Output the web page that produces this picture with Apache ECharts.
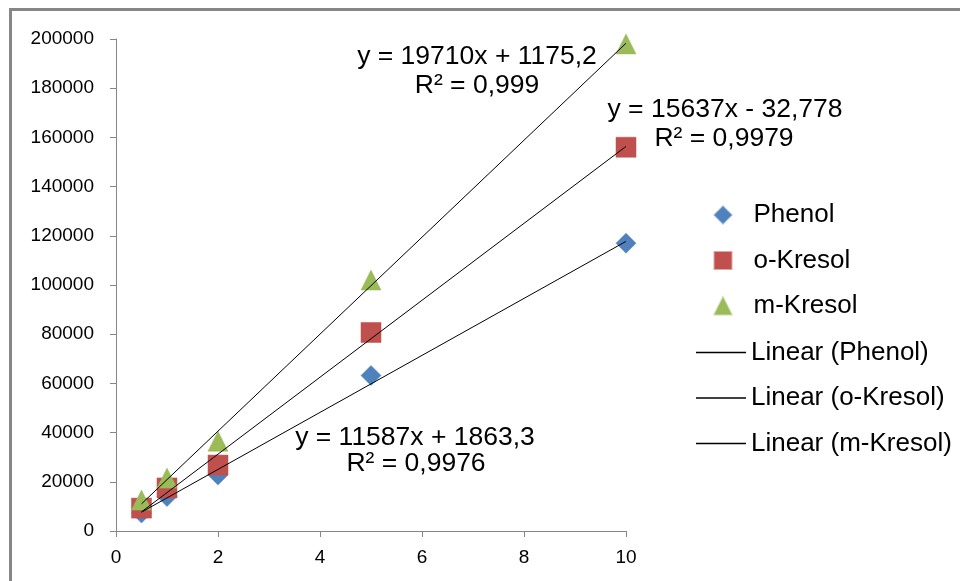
<!DOCTYPE html>
<html>
<head>
<meta charset="utf-8">
<script src="https://cdn.jsdelivr.net/npm/echarts@6/dist/echarts.min.js"></script>
<style>
html,body{margin:0;padding:0;background:#fff;}
#c{width:960px;height:581px;}
</style>
</head>
<body>
<div id="c"></div>
<script>
// Data
const xValues = [0.5, 1, 2, 5, 10];
const phenol = [7300, 14000, 22800, 63200, 117000];
const oKresol = [9300, 17500, 26800, 80700, 156000];
const mKresol = [12600, 21500, 36500, 102000, 198000];
const trendX = [0.5, 10];
const trendPhenol = [7657, 117733];
const trendOKresol = [7786, 156337];
const trendMKresol = [11030, 198275];
const seriesNames = ['Phenol', 'o-Kresol', 'm-Kresol', 'Linear (Phenol)', 'Linear (o-Kresol)', 'Linear (m-Kresol)'];
const eqPhenol = ['y = 11587x + 1863,3', 'R² = 0,9976'];
const eqOKresol = ['y = 15637x - 32,778', 'R² = 0,9979'];
const eqMKresol = ['y = 19710x + 1175,2', 'R² = 0,999'];

const pts = (xs, ys) => xs.map((x, i) => [x, ys[i]]);
const FONT = '"Liberation Sans", Arial, sans-serif';

const chart = echarts.init(document.getElementById('c'), null, {renderer: 'canvas'});
const annot = (lines, x, y) => lines.map((t, i) => ({
  type: 'text', x: x[i], y: y[i], z: 100,
  style: {text: t, font: '26.5px ' + FONT, fill: '#000', textAlign: 'center', textVerticalAlign: 'middle'}
}));
const legendText = {color: '#000', fontFamily: FONT, fontSize: 26, lineHeight: 26};

chart.setOption({
  animation: false,
  backgroundColor: '#fff',
  grid: {left: 116, top: 39, right: 334, bottom: 50, containLabel: false},
  xAxis: {
    type: 'value', min: 0, max: 10, interval: 2,
    axisLine: {show: true, lineStyle: {color: '#868686', width: 1}},
    axisTick: {show: true, length: 6, lineStyle: {color: '#868686'}},
    axisLabel: {color: '#000', fontFamily: FONT, fontSize: 19, margin: 17},
    splitLine: {show: false}
  },
  yAxis: {
    type: 'value', min: 0, max: 200000, interval: 20000,
    axisLine: {show: true, lineStyle: {color: '#868686', width: 1}},
    axisTick: {show: true, length: 6, lineStyle: {color: '#868686'}},
    axisLabel: {color: '#000', fontFamily: FONT, fontSize: 19, margin: 22, formatter: v => String(v)},
    splitLine: {show: false}
  },
  legend: [
    {
      orient: 'vertical', left: 713.5, top: 202, padding: 0,
      itemWidth: 17, itemHeight: 17, itemGap: 19.5,
      textStyle: Object.assign({padding: [0, 0, 0, 17]}, legendText),
      data: [
        {name: seriesNames[0], icon: 'diamond'},
        {name: seriesNames[1], icon: 'rect'},
        {name: seriesNames[2], icon: 'triangle'}
      ]
    },
    {
      orient: 'vertical', left: 696, top: 339.5, padding: 0,
      itemWidth: 50, itemHeight: 1.5, itemGap: 19.5,
      textStyle: legendText,
      data: [
        {name: seriesNames[3], icon: 'rect', itemStyle: {color: '#000'}},
        {name: seriesNames[4], icon: 'rect', itemStyle: {color: '#000'}},
        {name: seriesNames[5], icon: 'rect', itemStyle: {color: '#000'}}
      ]
    }
  ],
  series: [
    {name: seriesNames[0], type: 'scatter', symbol: 'diamond', symbolSize: 20, data: pts(xValues, phenol),
     itemStyle: {color: '#4F81BD', opacity: 1, borderColor: 'rgba(79,129,189,0.5)', borderWidth: 1}, z: 2},
    {name: seriesNames[1], type: 'scatter', symbol: 'rect', symbolSize: 20, data: pts(xValues, oKresol),
     itemStyle: {color: '#C0504D', opacity: 1, borderColor: 'rgba(192,80,77,0.5)', borderWidth: 1}, z: 3},
    {name: seriesNames[2], type: 'scatter', symbol: 'triangle', symbolSize: 20, data: pts(xValues, mKresol),
     itemStyle: {color: '#9BBB59', opacity: 1, borderColor: 'rgba(155,187,89,0.5)', borderWidth: 1}, z: 4},
    {name: seriesNames[3], type: 'line', symbol: 'none', data: pts(trendX, trendPhenol),
     lineStyle: {color: '#000', width: 1}, itemStyle: {color: '#000'}, z: 5},
    {name: seriesNames[4], type: 'line', symbol: 'none', data: pts(trendX, trendOKresol),
     lineStyle: {color: '#000', width: 1}, itemStyle: {color: '#000'}, z: 5},
    {name: seriesNames[5], type: 'line', symbol: 'none', data: pts(trendX, trendMKresol),
     lineStyle: {color: '#000', width: 1}, itemStyle: {color: '#000'}, z: 5}
  ],
  graphic: [
    {type: 'rect', z: 100, shape: {x: 10.5, y: 9.5, width: 1200, height: 1200},
     style: {fill: 'none', stroke: '#868686', lineWidth: 3}},
    ...annot(eqMKresol, [477, 477], [57, 86]),
    ...annot(eqOKresol, [725, 724], [110, 139]),
    ...annot(eqPhenol, [415, 416], [438, 464])
  ]
});
</script>
</body>
</html>
